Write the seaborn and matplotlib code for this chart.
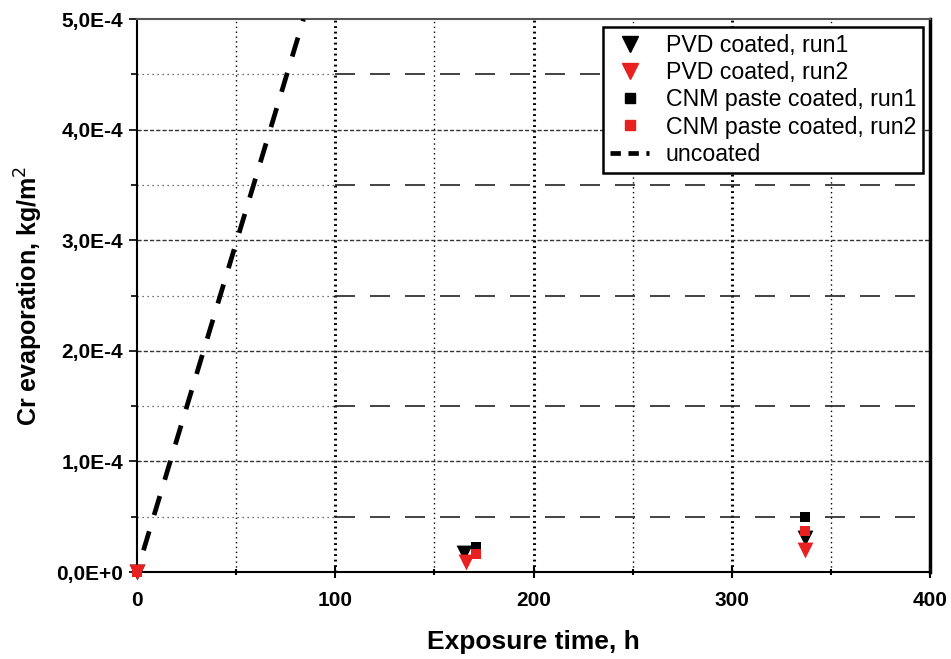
import numpy as np
import pandas as pd
import seaborn as sns
import matplotlib.pyplot as plt
from matplotlib.ticker import MultipleLocator, FuncFormatter
from matplotlib.lines import Line2D

# exposure time (h) and Cr evaporation (kg/m2)
pvd_run1_t = [0, 165, 337]
pvd_run1_y = [0.0, 0.17e-4, 0.31e-4]
pvd_run2_t = [0, 166, 337]
pvd_run2_y = [0.0, 0.09e-4, 0.20e-4]
cnm_run1_t = [0, 171, 337]
cnm_run1_y = [0.0, 0.23e-4, 0.50e-4]
cnm_run2_t = [0, 171, 337]
cnm_run2_y = [0.0, 0.16e-4, 0.37e-4]
uncoated_t = [0, 84]
uncoated_y = [0.0, 5.0e-4]

series = ["PVD coated, run1", "PVD coated, run2",
          "CNM paste coated, run1", "CNM paste coated, run2"]

df = pd.concat([
    pd.DataFrame({"t": pvd_run1_t, "y": pvd_run1_y, "series": series[0]}),
    pd.DataFrame({"t": pvd_run2_t, "y": pvd_run2_y, "series": series[1]}),
    pd.DataFrame({"t": cnm_run1_t, "y": cnm_run1_y, "series": series[2]}),
    pd.DataFrame({"t": cnm_run2_t, "y": cnm_run2_y, "series": series[3]}),
], ignore_index=True)
df_unc = pd.DataFrame({"t": uncoated_t, "y": uncoated_y})

palette = {series[0]: "black", series[1]: "#e8201f",
           series[2]: "black", series[3]: "#e8201f"}
markers = {series[0]: "v", series[1]: "v", series[2]: "s", series[3]: "s"}
sizes = {series[0]: 130, series[1]: 130, series[2]: 60, series[3]: 60}

sns.set_style("white")
plt.rcParams["font.family"] = ["Liberation Sans", "DejaVu Sans"]
plt.rcParams["text.color"] = "black"
plt.rcParams["axes.labelcolor"] = "black"
plt.rcParams["xtick.color"] = "black"
plt.rcParams["ytick.color"] = "black"

fig = plt.figure(figsize=(9.51, 6.59), dpi=100)
ax = fig.add_axes([0.144, 0.132, 0.834, 0.839])

ax.set_xlim(0, 400)
ax.set_ylim(0, 5e-4)

# grid
for x in [100, 200, 300]:
    ax.axvline(x, color="black", lw=2.2, ls=(0, (0.6, 1.2)), zorder=1)
for x in [50, 150, 250, 350]:
    ax.axvline(x, color="black", lw=1.0, ls=(0, (1, 2.5)), zorder=1)
for y in [1e-4, 2e-4, 3e-4, 4e-4]:
    ax.axhline(y, color="#333333", lw=1.0, ls=(0, (3, 1.5)), zorder=1)
for y in [0.5e-4, 1.5e-4, 2.5e-4, 3.5e-4, 4.5e-4]:
    ax.axhline(y, xmin=0, xmax=0.25, color="#444444", lw=0.9, ls=(0, (1, 3)), zorder=1)
    ax.axhline(y, xmin=0.25, xmax=1, color="#222222", lw=1.2, ls=(0, (12, 9)), zorder=1)

sns.lineplot(data=df_unc, x="t", y="y", color="black", lw=3.4, ax=ax,
             zorder=3, legend=False)
ax.lines[-1].set_linestyle((3.0, (4.2, 3.6)))

for name in series:
    sub = df[df["series"] == name]
    sns.scatterplot(data=sub, x="t", y="y", color=palette[name], marker=markers[name],
                    s=sizes[name], linewidth=0, ax=ax, zorder=4, clip_on=False, legend=False)

ax.xaxis.set_major_locator(MultipleLocator(100))
ax.xaxis.set_minor_locator(MultipleLocator(50))
ax.yaxis.set_major_locator(MultipleLocator(1e-4))
ax.yaxis.set_minor_locator(MultipleLocator(0.5e-4))
ax.yaxis.set_major_formatter(FuncFormatter(
    lambda v, p: "0,0E+0" if abs(v) < 1e-12 else f"{v * 1e4:.1f}E-4".replace(".", ",")))

ax.tick_params(axis="x", which="both", direction="inout", length=8, width=1.5,
               bottom=True, top=False, labelsize=15, pad=10)
ax.tick_params(axis="x", which="minor", length=5)
ax.tick_params(axis="y", which="both", direction="out", length=6, width=1.2,
               left=True, labelsize=15, pad=4)
ax.tick_params(axis="y", which="minor", length=4)
for lab in ax.get_xticklabels() + ax.get_yticklabels():
    lab.set_fontweight("bold")

for side in ["left", "bottom", "right", "top"]:
    ax.spines[side].set_color("black")
    ax.spines[side].set_visible(True)
ax.spines["left"].set_linewidth(1.5)
ax.spines["bottom"].set_linewidth(1.5)
ax.spines["right"].set_linewidth(2.5)
ax.spines["top"].set_linewidth(1.5)
ax.spines["top"].set_color("#555555")

ax.set_xlabel("Exposure time, h", fontsize=19, fontweight="bold", labelpad=14)
ax.set_ylabel("Cr evaporation, kg/m$^2$", fontsize=18, fontweight="bold", labelpad=8)

handles = [
    Line2D([], [], ls="none", marker="v", color="black", markersize=11),
    Line2D([], [], ls="none", marker="v", color="#e8201f", markersize=11),
    Line2D([], [], ls="none", marker="s", color="black", markersize=7),
    Line2D([], [], ls="none", marker="s", color="#e8201f", markersize=7),
    Line2D([], [], color="black", lw=3.4, ls=(0, (2.2, 1.6))),
]
leg = ax.legend(handles, ["PVD coated, run1", "PVD coated, run2",
                          "CNM paste coated, run1", "CNM paste coated, run2", "uncoated"],
                loc="upper right", bbox_to_anchor=(0.997, 0.994), fontsize=16.7,
                frameon=True, fancybox=False, framealpha=1, edgecolor="black",
                handlelength=1.7, handletextpad=0.7, labelspacing=0.18,
                borderpad=0.3, borderaxespad=0.2)
leg.get_frame().set_linewidth(1.8)

fig.savefig("out.png", dpi=100)
